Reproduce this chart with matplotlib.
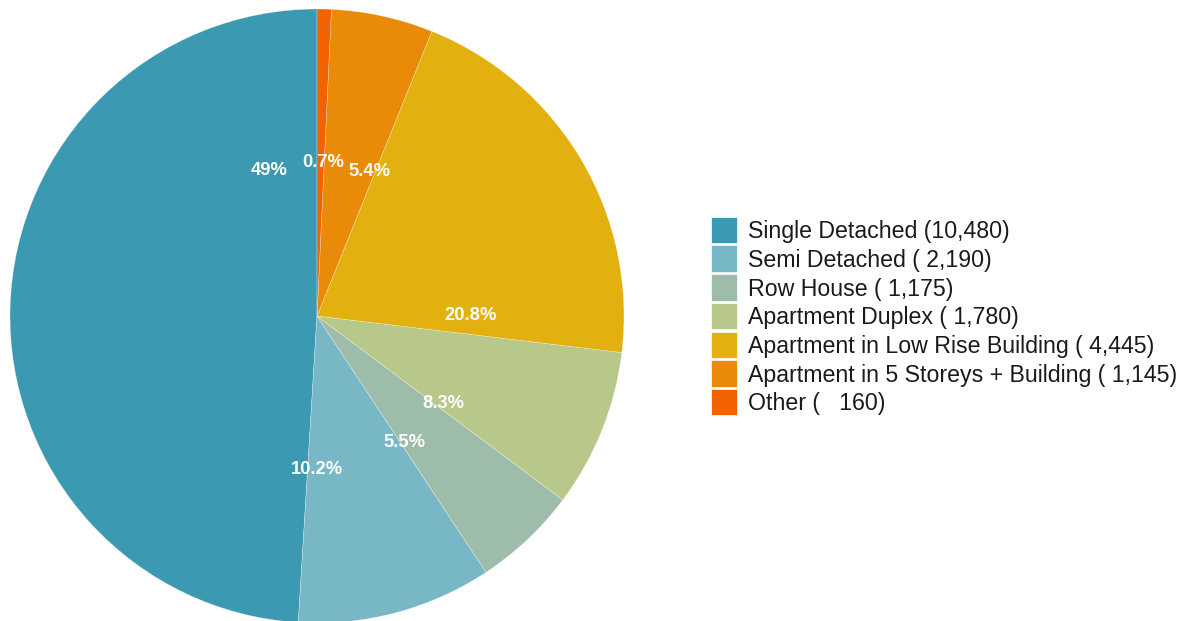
import matplotlib
matplotlib.use("Agg")
import matplotlib.pyplot as plt
from matplotlib.patches import Rectangle
import numpy as np

plt.rcParams['font.family'] = ['Liberation Sans', 'DejaVu Sans']

# Dwelling types and counts
categories = [
    "Single Detached",
    "Semi Detached",
    "Row House",
    "Apartment Duplex",
    "Apartment in Low Rise Building",
    "Apartment in 5 Storeys + Building",
    "Other",
]
counts = [10480, 2190, 1175, 1780, 4445, 1145, 160]
legend_counts = ["10,480", " 2,190", " 1,175", " 1,780", " 4,445", " 1,145", "   160"]

colors = ["#3B9AB2", "#78B7C5", "#9DBDAA", "#B8C78A", "#E2B00F", "#EA8A09", "#F06300"]

# where each percentage label sits (degrees, counter-clockwise from 3 o'clock)
label_angles = [108, -90, -55.2, -34.7, 0.3, 70, 87.8]
label_radius = 0.5

W, H = 1192, 621
fig = plt.figure(figsize=(W / 100, H / 100), dpi=100)

# pie: centre (317, 316) px from top-left, radius 307 px
cx, cy, r = 317, 316, 307
ax = fig.add_axes([(cx - r) / W, (H - cy - r) / H, 2 * r / W, 2 * r / H])
ax.pie(counts, colors=colors, startangle=90, counterclock=True, radius=1,
       wedgeprops=dict(edgecolor=(1, 1, 1, 0.6), linewidth=0.3))
ax.set_xlim(-1, 1)
ax.set_ylim(-1, 1)
ax.set_aspect("equal")
ax.axis("off")

total = sum(counts)
for val, ang in zip(counts, label_angles):
    pct = 100 * val / total
    txt = f"{pct:.1f}"
    if txt.endswith(".0"):
        txt = txt[:-2]
    a = np.deg2rad(ang)
    ax.text(label_radius * np.cos(a), label_radius * np.sin(a), txt + "%",
            ha="center", va="center", color="white", fontsize=13.2,
            fontweight="bold")

# legend drawn in pixel layout
sq_x, sq_w = 711, 26.5
top0, pitch = 216.7, 28.7
for i, (name, c, lc) in enumerate(zip(categories, colors, legend_counts)):
    top = top0 + i * pitch
    fig.add_artist(Rectangle((sq_x / W, (H - top - sq_w) / H), sq_w / W, sq_w / H,
                             transform=fig.transFigure, facecolor=c,
                             edgecolor="white", linewidth=0.5))
    base = top + sq_w / 2 + 8.3
    fig.text(748 / W, (H - base) / H, f"{name} ({lc})", fontsize=16.7,
             color="#1a1a1a", ha="left", va="baseline")

fig.savefig("out.png", dpi=100, facecolor="white")
